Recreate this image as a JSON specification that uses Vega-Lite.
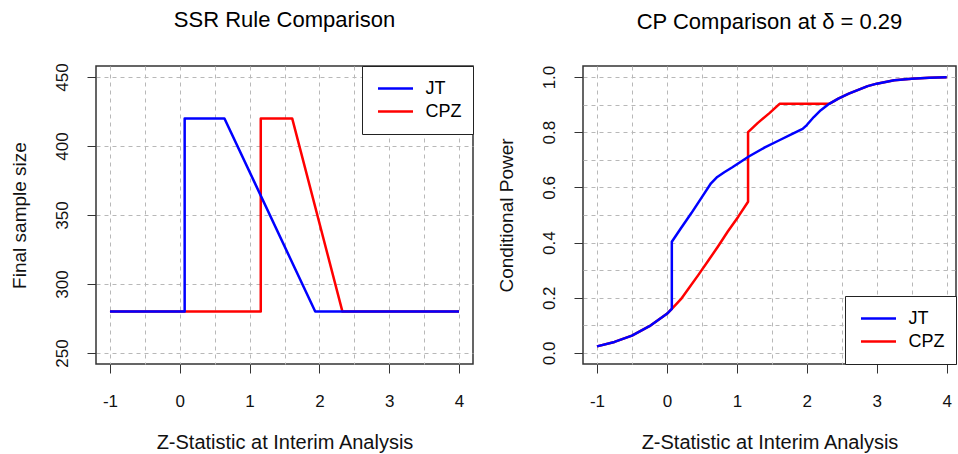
{
  "$schema": "https://vega.github.io/schema/vega-lite/v6.json",
  "background": "white",
  "padding": {"left": 9, "top": 8, "right": 0, "bottom": 0},
  "bounds": "flush",
  "spacing": 110,
  "datasets": {
    "ssr": [
      {"rule": "JT", "z": -1, "n": 280},
      {"rule": "JT", "z": 0.07, "n": 280},
      {"rule": "JT", "z": 0.07, "n": 420},
      {"rule": "JT", "z": 0.64, "n": 420},
      {"rule": "JT", "z": 1.94, "n": 280},
      {"rule": "JT", "z": 4, "n": 280},
      {"rule": "CPZ", "z": -1, "n": 280},
      {"rule": "CPZ", "z": 1.16, "n": 280},
      {"rule": "CPZ", "z": 1.16, "n": 420},
      {"rule": "CPZ", "z": 1.61, "n": 420},
      {"rule": "CPZ", "z": 2.33, "n": 280},
      {"rule": "CPZ", "z": 4, "n": 280}
    ],
    "cp": [
      {"rule": "JT", "z": -1, "cp": 0.024},
      {"rule": "JT", "z": -0.75, "cp": 0.04},
      {"rule": "JT", "z": -0.5, "cp": 0.063},
      {"rule": "JT", "z": -0.25, "cp": 0.097},
      {"rule": "JT", "z": 0, "cp": 0.142},
      {"rule": "JT", "z": 0.07, "cp": 0.16},
      {"rule": "JT", "z": 0.07, "cp": 0.403},
      {"rule": "JT", "z": 0.2, "cp": 0.452},
      {"rule": "JT", "z": 0.35, "cp": 0.507},
      {"rule": "JT", "z": 0.5, "cp": 0.565},
      {"rule": "JT", "z": 0.63, "cp": 0.615},
      {"rule": "JT", "z": 0.72, "cp": 0.638},
      {"rule": "JT", "z": 0.82, "cp": 0.655},
      {"rule": "JT", "z": 0.93, "cp": 0.672},
      {"rule": "JT", "z": 1.04, "cp": 0.69},
      {"rule": "JT", "z": 1.17, "cp": 0.712},
      {"rule": "JT", "z": 1.4, "cp": 0.745},
      {"rule": "JT", "z": 1.6, "cp": 0.77},
      {"rule": "JT", "z": 1.8, "cp": 0.795},
      {"rule": "JT", "z": 1.94, "cp": 0.812},
      {"rule": "JT", "z": 2.0, "cp": 0.826},
      {"rule": "JT", "z": 2.1, "cp": 0.855},
      {"rule": "JT", "z": 2.2, "cp": 0.88},
      {"rule": "JT", "z": 2.32, "cp": 0.903},
      {"rule": "JT", "z": 2.45, "cp": 0.922},
      {"rule": "JT", "z": 2.6, "cp": 0.94},
      {"rule": "JT", "z": 2.87, "cp": 0.967},
      {"rule": "JT", "z": 3.0, "cp": 0.976},
      {"rule": "JT", "z": 3.25, "cp": 0.988},
      {"rule": "JT", "z": 3.5, "cp": 0.994},
      {"rule": "JT", "z": 3.75, "cp": 0.997},
      {"rule": "JT", "z": 4, "cp": 0.999},
      {"rule": "CPZ", "z": -1, "cp": 0.024},
      {"rule": "CPZ", "z": -0.75, "cp": 0.04},
      {"rule": "CPZ", "z": -0.5, "cp": 0.063},
      {"rule": "CPZ", "z": -0.25, "cp": 0.097},
      {"rule": "CPZ", "z": 0, "cp": 0.142},
      {"rule": "CPZ", "z": 0.07, "cp": 0.16},
      {"rule": "CPZ", "z": 0.2, "cp": 0.195},
      {"rule": "CPZ", "z": 0.3, "cp": 0.23},
      {"rule": "CPZ", "z": 0.45, "cp": 0.283},
      {"rule": "CPZ", "z": 0.59, "cp": 0.334},
      {"rule": "CPZ", "z": 0.73, "cp": 0.386},
      {"rule": "CPZ", "z": 0.87, "cp": 0.44},
      {"rule": "CPZ", "z": 1.02, "cp": 0.494},
      {"rule": "CPZ", "z": 1.16, "cp": 0.548},
      {"rule": "CPZ", "z": 1.16, "cp": 0.8},
      {"rule": "CPZ", "z": 1.3, "cp": 0.834},
      {"rule": "CPZ", "z": 1.47, "cp": 0.87},
      {"rule": "CPZ", "z": 1.61, "cp": 0.903},
      {"rule": "CPZ", "z": 2.32, "cp": 0.903},
      {"rule": "CPZ", "z": 2.45, "cp": 0.922},
      {"rule": "CPZ", "z": 2.6, "cp": 0.94},
      {"rule": "CPZ", "z": 2.87, "cp": 0.967},
      {"rule": "CPZ", "z": 3.0, "cp": 0.976},
      {"rule": "CPZ", "z": 3.25, "cp": 0.988},
      {"rule": "CPZ", "z": 3.5, "cp": 0.994},
      {"rule": "CPZ", "z": 3.75, "cp": 0.997},
      {"rule": "CPZ", "z": 4, "cp": 0.999}
    ]
  },
  "hconcat": [
    {
      "title": "SSR Rule Comparison",
      "width": 377,
      "height": 298,
      "data": {"name": "ssr"},
      "encoding": {
        "x": {
          "field": "z", "type": "quantitative",
          "scale": {"domain": [-1.2, 4.2], "nice": false, "zero": false},
          "axis": {
            "title": "Z-Statistic at Interim Analysis",
            "values": [-1, -0.5, 0, 0.5, 1, 1.5, 2, 2.5, 3, 3.5, 4],
            "labelExpr": "round(datum.value*2) % 2 == 0 ? '' + datum.value : ''",
            "tickOpacity": {"condition": {"test": "round(datum.value*2) % 2 != 0", "value": 0}, "value": 1}
          }
        },
        "y": {
          "field": "n", "type": "quantitative",
          "scale": {"domain": [242, 458], "nice": false, "zero": false},
          "axis": {"title": "Final sample size", "values": [250, 300, 350, 400, 450]}
        },
        "color": {
          "field": "rule", "type": "nominal",
          "scale": {"domain": ["JT", "CPZ"], "range": ["#0000ff", "#ff0000"]},
          "legend": {"orient": "top-right", "title": null, "symbolType": "M-2.5,0H2.5"}
        },
        "order": {"value": null}
      },
      "layer": [
        {"transform": [{"filter": "datum.rule == 'CPZ'"}], "mark": {"type": "line", "strokeWidth": 2.5, "strokeJoin": "round"}},
        {"transform": [{"filter": "datum.rule == 'JT'"}], "mark": {"type": "line", "strokeWidth": 2.5, "strokeJoin": "round"}}
      ]
    },
    {
      "title": "CP Comparison at δ = 0.29",
      "width": 373,
      "height": 298,
      "data": {"name": "cp"},
      "encoding": {
        "x": {
          "field": "z", "type": "quantitative",
          "scale": {"domain": [-1.2, 4.133], "nice": false, "zero": false},
          "axis": {
            "title": "Z-Statistic at Interim Analysis",
            "values": [-1, -0.5, 0, 0.5, 1, 1.5, 2, 2.5, 3, 3.5, 4],
            "labelExpr": "round(datum.value*2) % 2 == 0 ? '' + datum.value : ''",
            "tickOpacity": {"condition": {"test": "round(datum.value*2) % 2 != 0", "value": 0}, "value": 1}
          }
        },
        "y": {
          "field": "cp", "type": "quantitative",
          "scale": {"domain": [-0.04, 1.04], "nice": false, "zero": false},
          "axis": {
            "title": "Conditional Power",
            "values": [0, 0.1, 0.2, 0.3, 0.4, 0.5, 0.6, 0.7, 0.8, 0.9, 1],
            "labelExpr": "round(datum.value*10) % 2 == 0 ? format(datum.value, '.1f') : ''",
            "tickOpacity": {"condition": {"test": "round(datum.value*10) % 2 != 0", "value": 0}, "value": 1}
          }
        },
        "color": {
          "field": "rule", "type": "nominal",
          "scale": {"domain": ["JT", "CPZ"], "range": ["#0000ff", "#ff0000"]},
          "legend": {"orient": "bottom-right", "title": null, "symbolType": "M-2.5,0H2.5"}
        },
        "order": {"value": null}
      },
      "layer": [
        {"transform": [{"filter": "datum.rule == 'CPZ'"}], "mark": {"type": "line", "strokeWidth": 2.5, "strokeJoin": "round"}},
        {"transform": [{"filter": "datum.rule == 'JT'"}], "mark": {"type": "line", "strokeWidth": 2.5, "strokeJoin": "round"}}
      ]
    }
  ],
  "resolve": {"scale": {"color": "independent"}, "legend": {"color": "independent"}},
  "config": {
    "font": "Liberation Sans",
    "view": {"stroke": "#333333", "strokeWidth": 1.5},
    "title": {"font": "Liberation Sans", "fontSize": 22, "fontWeight": "normal", "color": "#000000", "baseline": "alphabetic", "offset": 31, "anchor": "middle", "frame": "group"},
    "axis": {
      "labelFont": "Liberation Sans", "labelFontSize": 17, "labelColor": "#111111",
      "titleFont": "Liberation Sans", "titleFontSize": 20, "titleFontWeight": "normal", "titleColor": "#111111",
      "tickColor": "#333333", "tickSize": 9, "tickWidth": 1, "domain": false,
      "grid": true, "gridColor": "#b8b8b8", "gridDash": [4, 4], "gridWidth": 1,
      "labelOverlap": false, "labelFlush": false, "labelBound": false
    },
    "axisX": {"labelAngle": 0, "labelPadding": 20, "titlePadding": 23},
    "axisY": {"labelAngle": -90, "labelAlign": "center", "labelBaseline": "bottom", "labelPadding": 16, "titlePadding": 24, "titleFontSize": 19},
    "legend": {
      "symbolStrokeWidth": 2.5, "symbolSize": 196, "symbolOffset": 13.5,
      "labelFont": "Liberation Sans", "labelFontSize": 18, "labelColor": "#000000", "labelLimit": 0,
      "strokeColor": "#222222", "fillColor": "white", "padding": 11, "offset": 0,
      "rowPadding": 0, "clipHeight": 23, "labelOffset": 21
    }
  }
}
